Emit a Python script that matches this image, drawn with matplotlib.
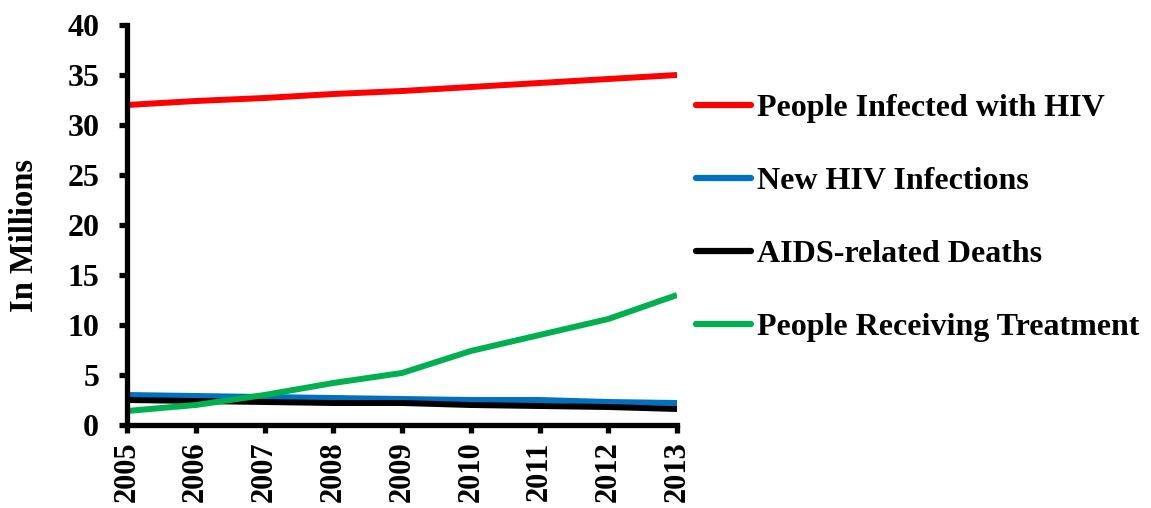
import matplotlib
matplotlib.use("Agg")
import matplotlib.pyplot as plt

years = [2005, 2006, 2007, 2008, 2009, 2010, 2011, 2012, 2013]
infected = [32.0, 32.4, 32.7, 33.1, 33.4, 33.8, 34.2, 34.6, 35.0]
new_infections = [3.0, 2.9, 2.8, 2.7, 2.6, 2.5, 2.5, 2.3, 2.2]
deaths = [2.5, 2.4, 2.3, 2.2, 2.2, 2.0, 1.9, 1.8, 1.6]
treatment = [1.4, 2.0, 3.0, 4.2, 5.2, 7.4, 9.0, 10.6, 13.0]

labels = ["People Infected with HIV", "New HIV Infections",
          "AIDS-related Deaths", "People Receiving Treatment"]
colors = ["#ff0000", "#0070c0", "#000000", "#00b050"]

plt.rcParams["font.family"] = ["Liberation Serif", "DejaVu Serif"]
plt.rcParams["font.weight"] = "bold"

fig = plt.figure(figsize=(11.51, 5.08), dpi=100)
ax = fig.add_axes([127 / 1151, 83 / 508, 550 / 1151, 400 / 508])

for series, lab, col in zip([infected, new_infections, deaths, treatment], labels, colors):
    ax.plot(years, series, color=col, lw=4.3, label=lab,
            solid_capstyle="butt", solid_joinstyle="round")

ax.set_xlim(2005, 2013)
ax.set_ylim(0, 40)
ax.set_xticks(years)
ax.set_xticklabels([str(y) for y in years], rotation=90, fontsize=22, fontweight="bold")
ax.set_yticks(range(0, 41, 5))
ax.set_yticklabels([str(v) for v in range(0, 41, 5)], fontsize=23, fontweight="bold")
ax.tick_params(axis="both", direction="out", length=6, width=3.8)
ax.tick_params(axis="y", pad=14)
ax.tick_params(axis="x", pad=6)

for side in ["top", "right"]:
    ax.spines[side].set_visible(False)
for side in ["left", "bottom"]:
    ax.spines[side].set_linewidth(3.8)

ax.set_ylabel("In Millions", fontsize=23.5, fontweight="bold")
ax.yaxis.set_label_coords(-0.1575, 0.475)

leg = ax.legend(loc="center left", bbox_to_anchor=(1.035, 0.5175), frameon=False,
                fontsize=23, handlelength=1.7, handletextpad=0.2,
                labelspacing=1.36, borderaxespad=0, borderpad=0)
for t in leg.get_texts():
    t.set_fontweight("bold")
for h in leg.get_lines():
    h.set_solid_capstyle("round")
    h.set_linewidth(4.5)

fig.savefig("out.png", dpi=100)
